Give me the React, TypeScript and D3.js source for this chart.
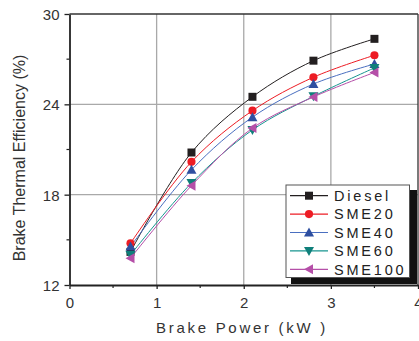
import { useEffect, useRef } from 'react'
import * as d3 from 'd3'

const power = [0.7, 1.4, 2.1, 2.8, 3.5]
const diesel = [14.2, 20.8, 24.5, 26.9, 28.35]
const sme20 = [14.77, 20.18, 23.58, 25.8, 27.26]
const sme40 = [14.55, 19.65, 23.15, 25.35, 26.68]
const sme60 = [14.0, 18.77, 22.3, 24.53, 26.42]
const sme100 = [13.78, 18.6, 22.42, 24.49, 26.12]
const seriesNames = ['Diesel', 'SME20', 'SME40', 'SME60', 'SME100']
const xTicks = [0, 1, 2, 3, 4]
const yTicks = [12, 18, 24, 30]

const styles = [
  { line: '#231f20', fill: '#231f20', shape: 'square' },
  { line: '#ed1c24', fill: '#ed1c24', shape: 'circle' },
  { line: '#4a6fc0', fill: '#2e4fa0', shape: 'up' },
  { line: '#17958f', fill: '#0f7f7a', shape: 'down' },
  { line: '#b54fa8', fill: '#b54fa8', shape: 'left' },
]

const symbolPath = (shape: string) => {
  if (shape === 'square') return 'M-4,-4H4V4H-4Z'
  if (shape === 'circle') return d3.symbol(d3.symbolCircle, 52)()!
  if (shape === 'up') return 'M0,-5L5,4H-5Z'
  if (shape === 'down') return 'M0,5L5,-4H-5Z'
  return 'M-5,0L4,-5V5Z'
}

export default function App() {
  const ref = useRef<SVGSVGElement | null>(null)

  useEffect(() => {
    const svg = d3.select(ref.current)
    svg.selectAll('*').remove()
    const left = 69.5, right = 418, top = 14, bottom = 285
    const x = d3.scaleLinear().domain([0, 4]).range([left, right])
    const y = d3.scaleLinear().domain([12, 30]).range([bottom, top])
    const font = 'Liberation Sans, Arial, sans-serif'

    // grid
    ;[1, 2, 3].forEach(v => {
      svg.append('line').attr('x1', x(v)).attr('x2', x(v)).attr('y1', top).attr('y2', bottom)
        .attr('stroke', '#a9a9a9').attr('stroke-width', 1.3)
    })
    ;[18, 24].forEach(v => {
      svg.append('line').attr('x1', left).attr('x2', right).attr('y1', y(v)).attr('y2', y(v))
        .attr('stroke', '#a9a9a9').attr('stroke-width', 1.3)
    })

    // frame
    svg.append('line').attr('x1', left).attr('x2', right).attr('y1', top).attr('y2', top)
      .attr('stroke', '#333').attr('stroke-width', 1.3)
    svg.append('line').attr('x1', right).attr('x2', right).attr('y1', top).attr('y2', bottom)
      .attr('stroke', '#333').attr('stroke-width', 1.3)

    // axes
    const xAxis = svg.append('g').attr('transform', `translate(0,${bottom})`)
      .call(d3.axisBottom(x).tickValues(xTicks).tickFormat(d3.format('d')).tickSize(4).tickSizeOuter(0))
    const yAxis = svg.append('g').attr('transform', `translate(${left},0)`)
      .call(d3.axisLeft(y).tickValues(yTicks).tickSize(5).tickSizeOuter(0))
    ;[xAxis, yAxis].forEach(a => {
      a.select('.domain').attr('stroke', '#222').attr('stroke-width', 1.8)
      a.selectAll('line').attr('stroke', '#222').attr('stroke-width', 1.3)
      a.selectAll('text').attr('font-family', font).attr('font-size', 15).attr('fill', '#333')
    })
    xAxis.selectAll('text').attr('dy', '1.05em')
    yAxis.selectAll('text').attr('dy', '0.36em').attr('x', -10)
    // minor ticks
    ;[0.5, 1.5, 2.5, 3.5].forEach(v => {
      svg.append('line').attr('x1', x(v)).attr('x2', x(v)).attr('y1', bottom).attr('y2', bottom + 3)
        .attr('stroke', '#222').attr('stroke-width', 1.2)
    })
    ;[15, 21, 27].forEach(v => {
      svg.append('line').attr('x1', left - 3).attr('x2', left).attr('y1', y(v)).attr('y2', y(v))
        .attr('stroke', '#222').attr('stroke-width', 1.2)
    })

    // series
    const all = [diesel, sme20, sme40, sme60, sme100]
    const line = d3.line<number>().x((_, i) => x(power[i])).y(d => y(d)).curve(d3.curveCatmullRom)
    all.forEach((vals, k) => {
      svg.append('path').attr('d', line(vals)).attr('fill', 'none')
        .attr('stroke', styles[k].line).attr('stroke-width', 1)
    })
    all.forEach((vals, k) => {
      vals.forEach((v, i) => {
        svg.append('path').attr('d', symbolPath(styles[k].shape))
          .attr('transform', `translate(${x(power[i])},${y(v)})`)
          .attr('fill', styles[k].fill)
      })
    })

    // legend
    const lg = svg.append('g').attr('transform', 'translate(286,185)')
    lg.append('rect').attr('x', 5).attr('y', 5).attr('width', 126).attr('height', 94).attr('fill', '#111')
    lg.append('rect').attr('x', 0).attr('y', 0).attr('width', 123.5).attr('height', 92.5)
      .attr('fill', '#fff').attr('stroke', '#555').attr('stroke-width', 1)
    seriesNames.forEach((name, k) => {
      const cy = 10.7 + k * 18.4
      lg.append('line').attr('x1', 4).attr('x2', 42).attr('y1', cy).attr('y2', cy)
        .attr('stroke', styles[k].line).attr('stroke-width', 1.2)
      lg.append('path').attr('d', symbolPath(styles[k].shape))
        .attr('transform', `translate(23,${cy})`).attr('fill', styles[k].fill)
      lg.append('text').attr('x', 48).attr('y', cy).attr('dy', '0.36em')
        .attr('font-family', font).attr('font-size', 14.5).attr('letter-spacing', 2.8)
        .attr('fill', '#222').text(name)
    })

    // titles
    svg.append('text').attr('x', 242).attr('y', 333).attr('text-anchor', 'middle')
      .attr('font-family', font).attr('font-size', 15).attr('letter-spacing', 2.7)
      .attr('fill', '#333').text('Brake Power (kW )')
    svg.append('text').attr('transform', `translate(25,158) rotate(-90)`)
      .attr('text-anchor', 'middle').attr('font-family', font).attr('font-size', 16)
      .attr('fill', '#333').text('Brake Thermal Efficiency (%)')
  }, [])

  return (
    <svg ref={ref} width={419} height={341}
      style={{ position: 'absolute', left: 0, top: 0, background: '#fff' }} />
  )
}
